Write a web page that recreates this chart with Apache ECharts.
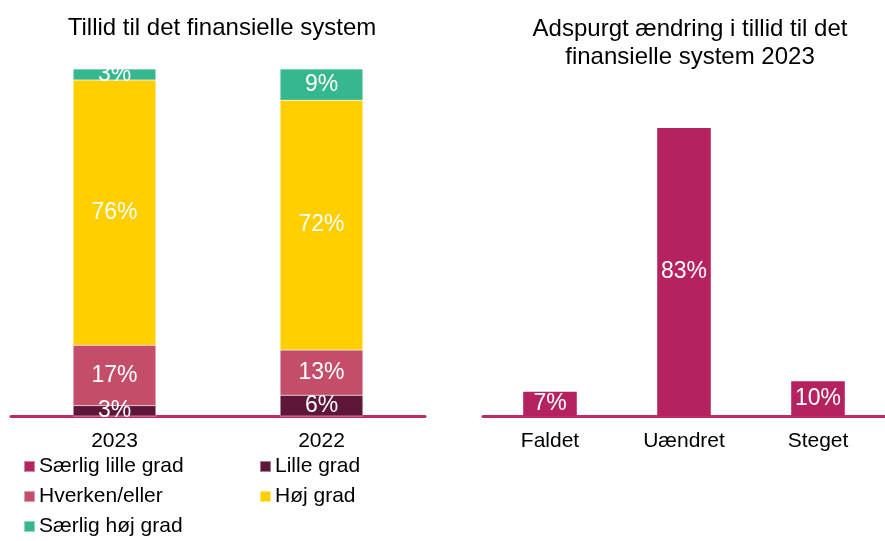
<!DOCTYPE html>
<html>
<head>
<meta charset="utf-8">
<script src="https://cdn.jsdelivr.net/npm/echarts@6/dist/echarts.min.js"></script>
<style>
  html, body { margin: 0; padding: 0; background: #fff; }
  #chart { width: 885px; height: 541px; }
</style>
</head>
<body>
<div id="chart"></div>
<script>
// venstre figur: tillid (pct.)
var years = ["2023", "2022"];
var saerligLille = [0, 0];
var lille = [3, 6];
var hverken = [17.4, 13];
var hoej = [76.4, 72];
var saerligHoej = [3.2, 9];

// højre figur: ændring i tillid 2023 (pct.)
var changeCats = ["Faldet", "Uændret", "Steget"];
var changeVals = [7, 83, 10];

var font = "Liberation Sans, Arial, sans-serif";
var magenta = "#B52260";

var chart = echarts.init(document.getElementById("chart"));

// label kun hvis værdien er stor nok
function pct(p) {
  return p.value >= 1 ? Math.round(p.value) + "%" : "";
}

function stackSeries(name, data, color) {
  return {
    name: name,
    type: "bar",
    stack: "tillid",
    xAxisIndex: 0,
    yAxisIndex: 0,
    barWidth: "40%",
    data: data,
    itemStyle: { color: color, borderColor: "rgba(255,255,255,0.45)", borderWidth: 0.5 },
    label: {
      show: true,
      position: "inside",
      color: "#fff",
      fontSize: 23,
      fontFamily: font,
      formatter: pct
    }
  };
}

var option = {
  animation: false,
  textStyle: { fontFamily: font },
  title: [
    {
      text: "Tillid til det finansielle system",
      left: 217,
      top: 9,
      textAlign: "center",
      textStyle: { fontSize: 24, fontWeight: "normal", color: "#000", fontFamily: font, lineHeight: 28 }
    },
    {
      text: "Adspurgt ændring i tillid til det\nfinansielle system 2023",
      left: 685,
      top: 10,
      textAlign: "center",
      textStyle: { fontSize: 24, fontWeight: "normal", color: "#000", fontFamily: font, lineHeight: 28 }
    }
  ],
  legend: {
    left: 23,
    top: 456,
    padding: 0,
    width: 500,
    itemWidth: 11,
    itemHeight: 11,
    itemGap: 9,
    icon: "rect",
    data: ["Særlig lille grad", "Lille grad", "Hverken/eller", "Høj grad", "Særlig høj grad"],
    textStyle: { fontSize: 21, color: "#000", fontFamily: font, width: 211, lineHeight: 20, padding: [0, 0, 0, -1] }
  },
  grid: [
    { left: 11, right: 460, top: 69, bottom: 125 },
    { left: 483, right: -12, top: 69, bottom: 125 }
  ],
  xAxis: [
    {
      type: "category",
      gridIndex: 0,
      data: years,
      axisTick: { show: false },
      axisLine: { lineStyle: { color: "#BE2C67", width: 3 } },
      axisLabel: { fontSize: 21, color: "#000", margin: 15, fontFamily: font }
    },
    {
      type: "category",
      gridIndex: 1,
      data: changeCats,
      axisTick: { show: false },
      axisLine: { lineStyle: { color: "#BE2C67", width: 3 } },
      axisLabel: { fontSize: 21, color: "#000", margin: 15, fontFamily: font }
    }
  ],
  yAxis: [
    { type: "value", gridIndex: 0, min: 0, max: 100, show: false },
    { type: "value", gridIndex: 1, min: 0, max: 100, show: false }
  ],
  series: [
    stackSeries("Særlig lille grad", saerligLille, magenta),
    stackSeries("Lille grad", lille, "#5E1639"),
    stackSeries("Hverken/eller", hverken, "#C44E69"),
    stackSeries("Høj grad", hoej, "#FFCF00"),
    stackSeries("Særlig høj grad", saerligHoej, "#36B88E"),
    {
      name: "Ændring",
      type: "bar",
      xAxisIndex: 1,
      yAxisIndex: 1,
      barWidth: "40%",
      data: changeVals,
      itemStyle: { color: magenta },
      label: {
        show: true,
        position: "inside",
        color: "#fff",
        fontSize: 23,
        fontFamily: font,
        formatter: "{c}%"
      }
    }
  ]
};

chart.setOption(option);
</script>
</body>
</html>
